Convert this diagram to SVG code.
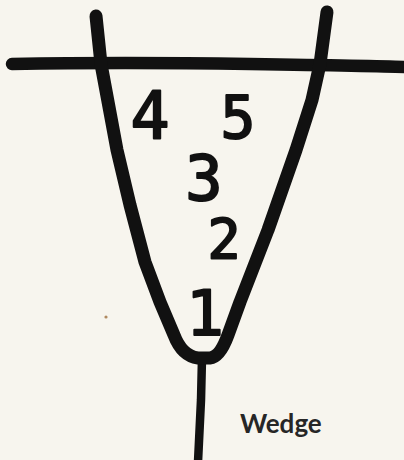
<svg xmlns="http://www.w3.org/2000/svg" width="404" height="460" viewBox="0 0 404 460">
  <style>
    .ink { fill: none; stroke: #111; stroke-linecap: round; stroke-linejoin: round; }
    .digit { font-family: "DejaVu Sans Mono", "Liberation Mono", monospace; font-weight: normal; fill: #111; stroke: #111; stroke-width: 2; stroke-linejoin: round; text-anchor: middle; }
    .label { font-family: "Lato", "Liberation Sans", sans-serif; font-weight: bold; fill: #262626; font-size: 26px; }
  </style>
  <rect width="404" height="460" fill="#f7f5ee"/>
  <circle cx="106" cy="317" r="1.6" fill="#b08a60"/>
  <g id="connectors">
    <path class="ink" stroke-width="12.5" d="M 12 64 Q 120 62 250 64 T 406 67"/>
    <path class="ink" stroke-width="8.5" d="M 202 358 L 201 400 L 198 462"/>
  </g>
  <g id="wedge">
    <path class="ink" stroke-width="13" d="M 96 16 L 101 64 L 117 150 L 130 205 L 145 262 L 160 302 L 174 335 Q 182 356 198 358 L 210 358 Q 220 357 228 335 L 240 302 L 268 230 L 296 150 L 312 100 L 320 64 L 327 12"/>
  </g>
  <g id="n4"><text class="digit" x="150" y="138" font-size="65">4</text></g>
  <g id="n5"><text class="digit" x="238" y="138" font-size="58">5</text></g>
  <g id="n3"><text class="digit" x="204" y="200" font-size="62">3</text></g>
  <g id="n2"><text class="digit" x="224" y="258" font-size="55">2</text></g>
  <g id="n1"><text class="digit" x="205" y="335" font-size="63">1</text></g>
  <g id="label-wedge"><text class="label" x="240" y="433">Wedge</text></g>
</svg>
